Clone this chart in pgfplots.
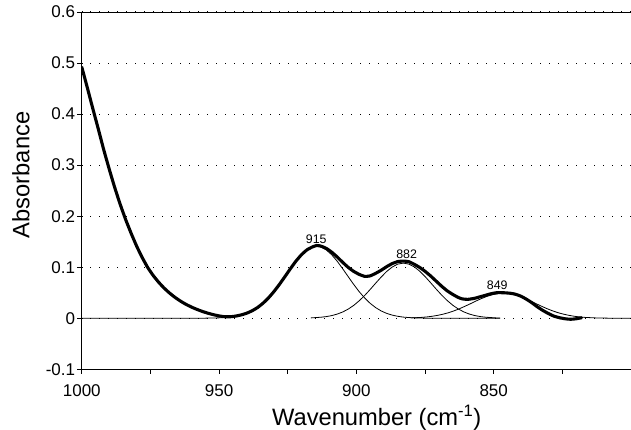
\documentclass[border=0pt]{standalone}
\usepackage{fontspec}
\setmainfont{Liberation Sans}
\usepackage{pgfplots}
\pgfplotsset{compat=1.18}
\begin{document}
\begin{tikzpicture}
\useasboundingbox (-81.8pt,-60.7pt) rectangle (549.2pt,369.3pt);
\begin{axis}[
  at={(0pt,0pt)}, anchor=south west,
  scale only axis, width=549.2pt, height=357.3pt,
  x dir=reverse, xmin=800, xmax=1000, ymin=-0.1, ymax=0.6,
  axis x line*=box, axis y line*=left,
  axis line style={black, line width=0.8pt},
  xtick={850,900,950,1000}, xticklabels={850,900,950,1000},
  minor xtick={825,875,925,975},
  ytick={-0.1,0,0.1,0.2,0.3,0.4,0.5,0.6},
  yticklabels={-0.1,0,0.1,0.2,0.3,0.4,0.5,0.6},
  xtick pos=bottom, ytick pos=left,
  tick align=outside, major tick length=4.5pt, minor tick length=4.5pt,
  tick style={black, line width=0.8pt},
  minor tick style={black, line width=0.8pt},
  ymajorgrids,
  major grid style={black, line width=1pt, dash pattern=on 1pt off 8pt},
  tick label style={font=\fontsize{17}{17}\selectfont},
  xticklabel style={anchor=north, inner sep=0pt, yshift=-11pt},
  yticklabel style={anchor=east, inner sep=2pt},
  label style={font=\fontsize{23.7}{24}\selectfont},
  xlabel={Wavenumber (cm\textsuperscript{-1})},
  xlabel style={at={(axis description cs:0.537,-0.157)}, anchor=base},
  ylabel={Absorbance},
  ylabel style={at={(axis description cs:-0.0956,0.544)}, anchor=base},
]
% component 915
\addplot[black, line width=0.8pt] coordinates {
(1000,0) (960,0) (955,0.0002) (950,0.0008) (946,0.0023) (942,0.0062) (940,0.0096)
(938,0.0144) (936,0.0209) (934,0.0293) (932,0.0398) (930,0.0522) (928,0.0664)
(926,0.0816) (924,0.0971) (922,0.1118) (920,0.1244) (918,0.1340) (916,0.1397)
(914.5,0.141) (913,0.1397) (911,0.1340) (909,0.1244) (907,0.1118) (905,0.0971)
(903,0.0816) (901,0.0664) (899,0.0522) (897,0.0398) (895,0.0293) (893,0.0209)
(891,0.0144) (889,0.0096) (887,0.0062) (885,0.0039) (883,0.0023) (881,0.0014)
(879,0.0008) (875,0.0002) (870,0) (847.7,0)};
% component 882
\addplot[black, line width=0.8pt] coordinates {
(916.6,0.0007) (912.9,0.0020) (910.9,0.0033) (908.9,0.0053) (906.9,0.0083)
(904.9,0.0125) (902.9,0.0182) (900.9,0.0255) (898.9,0.0346) (896.9,0.0451)
(894.9,0.0569) (892.9,0.0692) (890.9,0.0812) (888.9,0.0920) (886.9,0.1006)
(884.9,0.1061) (882.9,0.108) (880.9,0.1061) (878.9,0.1006) (876.9,0.0920)
(874.9,0.0812) (872.9,0.0692) (870.9,0.0569) (868.9,0.0451) (866.9,0.0346)
(864.9,0.0255) (862.9,0.0182) (860.9,0.0125) (858.9,0.0083) (856.9,0.0053)
(854.9,0.0033) (852.9,0.0020) (849.2,0.0007) (847.7,0.0004)};
% component 849
\addplot[black, line width=0.8pt] coordinates {
(880,0.0007) (876.5,0.0016) (874.5,0.0025) (872.5,0.0038) (870.5,0.0056)
(868.5,0.0079) (866.5,0.0108) (864.5,0.0144) (862.5,0.0186) (860.5,0.0234)
(858.5,0.0284) (856.5,0.0336) (854.5,0.0385) (852.5,0.0428) (850.5,0.0461)
(848.5,0.0483) (846.5,0.049) (844.5,0.0483) (842.5,0.0461) (840.5,0.0428)
(838.5,0.0385) (836.5,0.0336) (834.5,0.0284) (832.5,0.0234) (830.5,0.0186)
(828.5,0.0144) (826.5,0.0108) (824.5,0.0079) (822.5,0.0056) (820.5,0.0038)
(818.5,0.0025) (816.5,0.0016) (813,0.0007) (808.5,0.0002) (800,0)};
% measured spectrum
\addplot[black, line width=3.1pt, line join=round, line cap=round, smooth, tension=0.3] coordinates {
(1000,0.492) (998,0.452) (996,0.411) (994,0.371) (992,0.330) (990,0.292)
(988,0.256) (986,0.223) (984,0.193) (982,0.166) (980,0.141) (978,0.119)
(976,0.0995) (974,0.0838) (972,0.0705) (970,0.0590) (968,0.0492) (966,0.0407)
(964,0.0334) (962,0.0271) (960,0.0218) (958,0.0172) (956,0.0132) (954,0.0098)
(952,0.0069) (950,0.0046) (948,0.0030) (946,0.0029) (944,0.0042) (942,0.0065)
(940,0.0098) (938,0.0146) (936,0.021) (934,0.0295) (932,0.040) (930,0.0525)
(928,0.0666) (926,0.0818) (924,0.0973) (922,0.112) (920,0.1245) (918,0.134)
(916,0.1398) (914.5,0.1425) (913,0.1415) (911,0.137) (909,0.1295) (907,0.1201)
(905,0.1096) (903,0.0998) (901,0.0919) (899,0.086) (897,0.082) (895,0.083)
(893,0.088) (891,0.094) (889,0.101) (887,0.107) (885,0.111) (883,0.112)
(881,0.111) (879,0.106) (876.8,0.099) (875,0.092) (873,0.083) (871,0.073)
(869,0.063) (867,0.054) (865,0.047) (863,0.041) (861.5,0.038) (859.5,0.037)
(857,0.039) (855,0.042) (853,0.045) (851,0.048) (849,0.050) (846.5,0.050)
(844,0.049) (842,0.047) (840,0.043) (838,0.037) (836,0.030) (834,0.022)
(832,0.015) (830,0.009) (828,0.004) (826,0.001) (824,-0.001) (822,-0.002)
(820,-0.001) (818,0.001)};
\node[font=\fontsize{12.4}{12.4}\selectfont, inner sep=0pt] at (axis cs:914.6,0.155) {915};
\node[font=\fontsize{12.4}{12.4}\selectfont, inner sep=0pt] at (axis cs:881.7,0.1255) {882};
\node[font=\fontsize{12.4}{12.4}\selectfont, inner sep=0pt] at (axis cs:848.7,0.0653) {849};
\end{axis}
\end{tikzpicture}
\end{document}
